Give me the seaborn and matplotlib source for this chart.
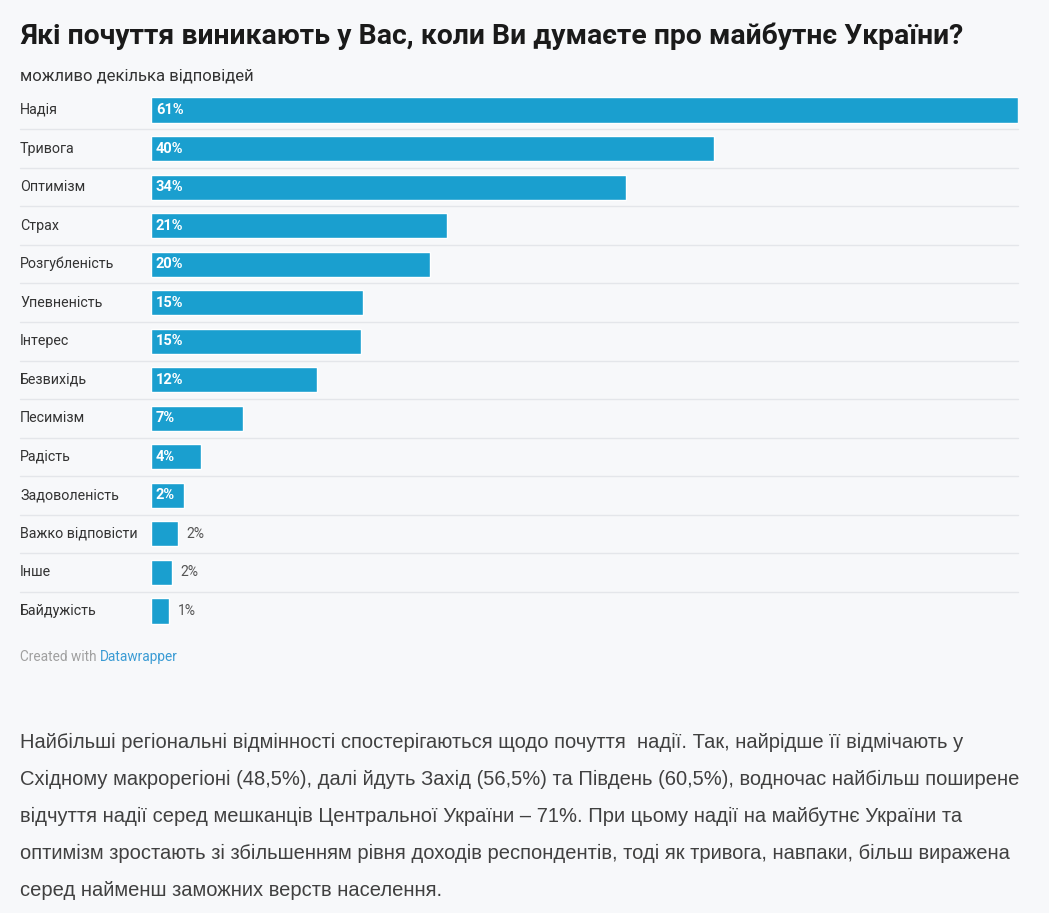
import pandas as pd
import matplotlib
matplotlib.use("Agg")
import matplotlib.pyplot as plt
import seaborn as sns

# Data
feelings = ["Надія", "Тривога", "Оптимізм", "Страх", "Розгубленість", "Упевненість",
            "Інтерес", "Безвихідь", "Песимізм", "Радість", "Задоволеність",
            "Важко відповісти", "Інше", "Байдужість"]
shares = [61.0, 39.6, 33.4, 20.8, 19.6, 14.9, 14.8, 11.7, 6.5, 3.5, 2.3, 1.9, 1.5, 1.3]
share_labels = ["61%", "40%", "34%", "21%", "20%", "15%", "15%", "12%", "7%", "4%",
                "2%", "2%", "2%", "1%"]

title = "Які почуття виникають у Вас, коли Ви думаєте про майбутнє України?"
subtitle = "можливо декілька відповідей"
paragraph = [
    "Найбільші регіональні відмінності спостерігаються щодо почуття  надії. Так, найрідше її відмічають у",
    "Східному макрорегіоні (48,5%), далі йдуть Захід (56,5%) та Південь (60,5%), водночас найбільш поширене",
    "відчуття надії серед мешканців Центральної України – 71%. При цьому надії на майбутнє України та",
    "оптимізм зростають зі збільшенням рівня доходів респондентів, тоді як тривога, навпаки, більш виражена",
    "серед найменш заможних верств населення.",
]

df = pd.DataFrame({"feeling": feelings, "share": shares})

sns.set_style("white")
plt.rcParams["font.family"] = ["Roboto", "DejaVu Sans"]

W, H = 1049, 913
bg = "#f7f8fa"
bar_color = "#1a9fcf"

fig = plt.figure(figsize=(W / 100, H / 100), dpi=100, facecolor=bg)

# axes placed in pixel terms: bars from x=151 to x=1018
x0, x1 = 151, 1018
row_top, row_bot = 90.75, 630.25
ax = fig.add_axes([x0 / W, 1 - row_bot / H, (x1 - x0) / W, (row_bot - row_top) / H])
ax.set_facecolor(bg)

sns.barplot(data=df, x="share", y="feeling", orient="h", color=bar_color,
            width=0.65, saturation=1, ax=ax)

ax.set_xlim(0, max(shares))
ax.set_ylim(len(feelings) - 0.5, -0.5)
ax.set_xlabel("")
ax.set_ylabel("")
ax.set_xticks([])
ax.set_yticks([])
for s in ax.spines.values():
    s.set_visible(False)

# row separators
sep_xmin = (20 - x0) / (x1 - x0)
for i in range(len(feelings) - 1):
    ax.axhline(i + 0.5, xmin=sep_xmin, xmax=1, color="#e4e6ea", lw=1, clip_on=False)

# category labels and values
px = max(shares) / (x1 - x0)  # data units per pixel
for i, (name, val, lab) in enumerate(zip(feelings, shares, share_labels)):
    ax.text(20 / W, 1 - (110 + i * 38.54) / H, name, transform=fig.transFigure,
            ha="left", va="center", fontsize=10.3, color="#333333")
    if val >= 2.2:
        ax.text(5 * px, i, lab, ha="left", va="center", fontsize=10.5,
                fontweight="bold", color="white")
    else:
        ax.text(val + 8 * px, i, lab, ha="left", va="center", fontsize=10,
                color="#555555")

fig.text(20 / W, 1 - 36 / H, title, ha="left", va="center", fontsize=20.4,
         fontweight="bold", color="#1a1a1a")
fig.text(20 / W, 1 - 76 / H, subtitle, ha="left", va="center", fontsize=12,
         color="#333333")

t = fig.text(20 / W, 1 - 657 / H, "Created with ", ha="left", va="center",
             fontsize=9.8, color="#a0a0a0")
fig.canvas.draw()
bb = t.get_window_extent()
fig.text(bb.x1 / W, 1 - 657 / H, "Datawrapper", ha="left", va="center",
         fontsize=9.8, color="#3a9bd4")

for k, line in enumerate(paragraph):
    fig.text(20 / W, 1 - (742 + k * 37.2) / H, line, ha="left", va="center",
             fontsize=14.5, color="#404040", family=["Liberation Sans", "DejaVu Sans"])

fig.savefig("out.png", dpi=100, facecolor=bg)
